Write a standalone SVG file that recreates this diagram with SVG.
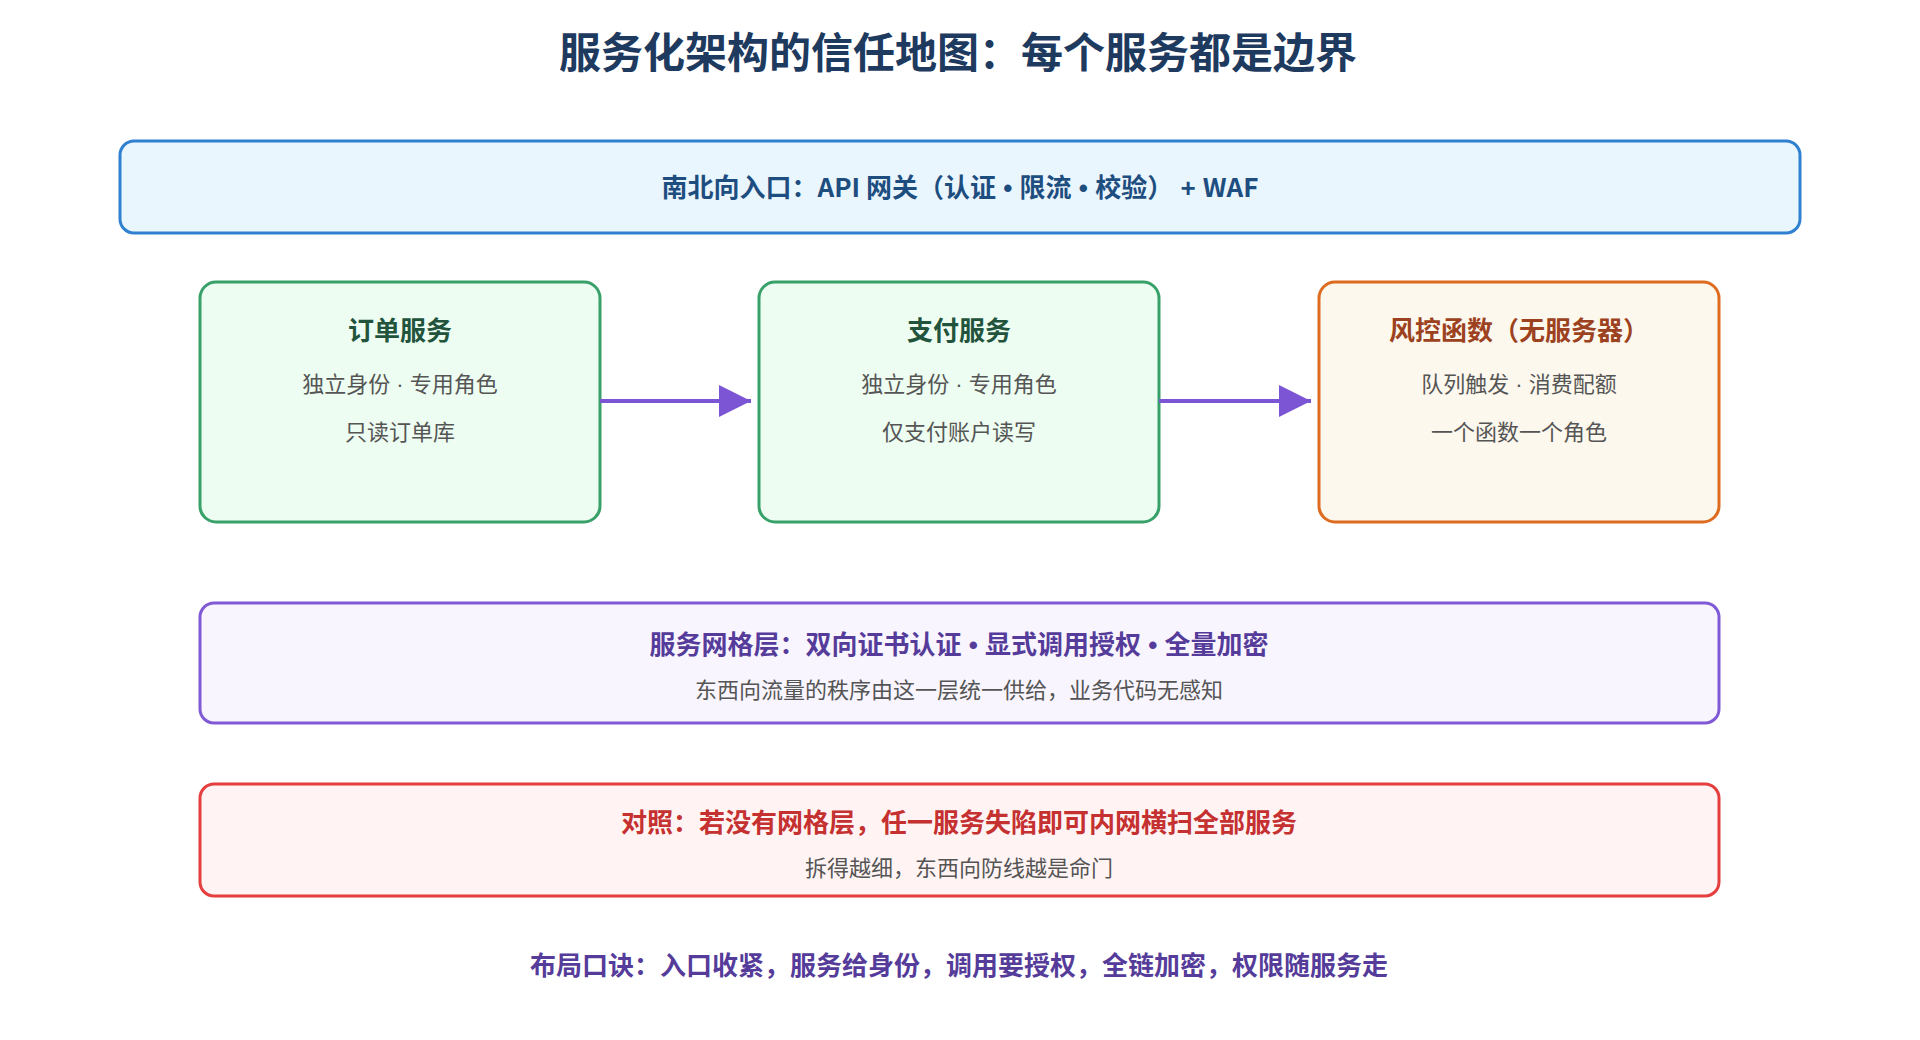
<svg xmlns="http://www.w3.org/2000/svg" width="1920" height="1040" viewBox="0 0 1920 1040">
<style>
text{font-family:"Noto Sans CJK SC","Liberation Sans",sans-serif;text-anchor:middle;dominant-baseline:middle}
.t{font-weight:700;font-size:26px}
.n{font-weight:700;font-size:26px}
.s{font-size:22px;fill:#555}
.conn{stroke:#7b55d4;stroke-width:4;fill:none}
</style>
<defs><marker id="ah2" viewBox="0 0 10 10" refX="10" refY="5" markerWidth="32" markerHeight="32" markerUnits="userSpaceOnUse" orient="auto"><path d="M0,0 L10,5 L0,10 Z" fill="#7b55d4"/></marker></defs>
<rect width="1920" height="1040" fill="#fff"/>
<text x="958" y="57" font-size="42" font-weight="700" fill="#1e3a5f">服务化架构的信任地图：每个服务都是边界</text>
<g id="gateway"><rect x="120" y="141" width="1680" height="92" rx="14" fill="#eaf6fd" stroke="#2f80d0" stroke-width="3"/><text class="t" x="960" y="190" fill="#1e4e80" font-size="26.5">南北向入口：API 网关（认证<tspan font-family="Liberation Sans"> • </tspan>限流<tspan font-family="Liberation Sans"> • </tspan>校验）<tspan font-family="Liberation Sans"> + </tspan>WAF</text></g>
<g id="order"><rect x="200" y="282" width="400" height="240" rx="16" fill="#edfdf1" stroke="#38a169" stroke-width="3"/><text class="n" x="400" y="333" fill="#22543d">订单服务</text><text class="s" x="400" y="386">独立身份<tspan font-family="Liberation Sans"> · </tspan>专用角色</text><text class="s" x="400" y="434">只读订单库</text></g>
<g id="pay"><rect x="759" y="282" width="400" height="240" rx="16" fill="#edfdf1" stroke="#38a169" stroke-width="3"/><text class="n" x="959" y="333" fill="#22543d">支付服务</text><text class="s" x="959" y="386">独立身份<tspan font-family="Liberation Sans"> · </tspan>专用角色</text><text class="s" x="959" y="434">仅支付账户读写</text></g>
<g id="risk"><rect x="1319" y="282" width="400" height="240" rx="16" fill="#fdf8ee" stroke="#dd6b20" stroke-width="3"/><text class="n" x="1519" y="333" fill="#9c4221">风控函数（无服务器）</text><text class="s" x="1519" y="386">队列触发<tspan font-family="Liberation Sans"> · </tspan>消费配额</text><text class="s" x="1519" y="434">一个函数一个角色</text></g>
<g id="connectors"><line class="conn" x1="600" y1="401" x2="751" y2="401" marker-end="url(#ah2)"/><line class="conn" x1="1159" y1="401" x2="1311" y2="401" marker-end="url(#ah2)"/></g>
<g id="mesh"><rect x="200" y="603" width="1519" height="120" rx="14" fill="#f9f5ff" stroke="#805ad5" stroke-width="3"/><text class="t" x="959" y="647" fill="#553c9a">服务网格层：双向证书认证<tspan font-family="Liberation Sans"> • </tspan>显式调用授权<tspan font-family="Liberation Sans"> • </tspan>全量加密</text><text class="s" x="959" y="692">东西向流量的秩序由这一层统一供给，业务代码无感知</text></g>
<g id="contrast"><rect x="200" y="784" width="1519" height="112" rx="14" fill="#fff4f3" stroke="#e53e3e" stroke-width="3"/><text class="t" x="959" y="825" fill="#c53030">对照：若没有网格层，任一服务失陷即可内网横扫全部服务</text><text class="s" x="959" y="870">拆得越细，东西向防线越是命门</text></g>
<text class="n" x="959" y="968" fill="#553c9a">布局口诀：入口收紧，服务给身份，调用要授权，全链加密，权限随服务走</text>
</svg>
